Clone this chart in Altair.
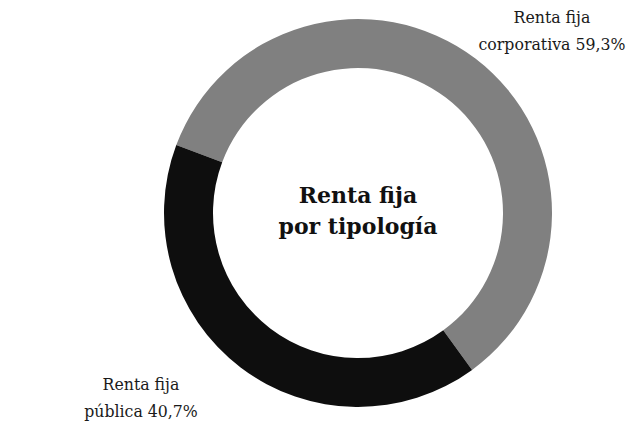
import altair as alt
import pandas as pd
import math

categories = ["Renta fija corporativa", "Renta fija pública"]
values = [59.3, 40.7]
colors = ["#808080", "#0e0e0e"]
label_lines = [["Renta fija", "corporativa 59,3%"], ["Renta fija", "pública 40,7%"]]
center_title = ["Renta fija", "por tipología"]

df = pd.DataFrame({"cat": categories, "val": values, "ord": [0, 1]})

start = math.radians(-69.5)
cx, cy = 350, 205

base = alt.Chart(df)
donut = base.mark_arc(radius=194, innerRadius=145, stroke=None).encode(
    theta=alt.Theta("val:Q", stack=True, scale=alt.Scale(range=[start, start + 2 * math.pi])),
    order=alt.Order("ord:Q"),
    color=alt.Color("cat:N", scale=alt.Scale(domain=categories, range=colors), legend=None),
    x=alt.value(cx),
    y=alt.value(cy),
)

font = "DejaVu Serif Condensed, DejaVu Serif"

lab1 = alt.Chart(pd.DataFrame({"t": [label_lines[0]]})).mark_text(
    font=font, fontSize=17.5, color="#1a1a1a", align="center", baseline="middle", lineHeight=27
).encode(text="t", x=alt.value(544), y=alt.value(10))

lab2 = alt.Chart(pd.DataFrame({"t": [label_lines[1]]})).mark_text(
    font=font, fontSize=17.5, color="#1a1a1a", align="center", baseline="middle", lineHeight=27
).encode(text="t", x=alt.value(133), y=alt.value(377))

title = alt.Chart(pd.DataFrame({"t": [center_title]})).mark_text(
    font="DejaVu Serif", fontSize=22, fontWeight="bold", color="#111111", align="center", baseline="middle", lineHeight=31
).encode(text="t", x=alt.value(cx), y=alt.value(188))

chart = alt.layer(donut, lab1, lab2, title).properties(
    width=618, height=413, autosize=alt.AutoSizeParams(type="none"), padding=0
).configure_view(stroke=None)

chart.save("out.html", embed_options={"renderer": "svg", "actions": False})
